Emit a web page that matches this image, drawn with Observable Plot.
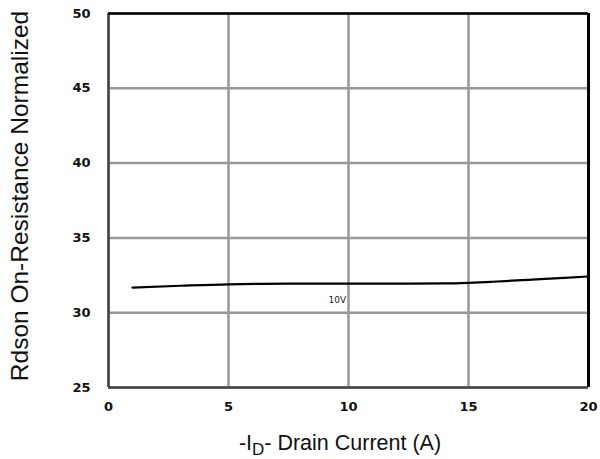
<!DOCTYPE html>
<html><head><meta charset="utf-8">
<script src="https://cdn.jsdelivr.net/npm/d3@7"></script>
<script src="https://cdn.jsdelivr.net/npm/@observablehq/plot@0.6"></script>
<style>body{margin:0;background:#fff}</style>
</head><body><div id="chart"></div>
<script>
const current = [1, 3, 5, 7.5, 10, 12.5, 14, 15, 16, 17.5, 19, 20];
const rdson = [31.68, 31.8, 31.9, 31.94, 31.95, 31.95, 31.96, 32.0, 32.07, 32.2, 32.33, 32.42];
const xTicks = [0, 5, 10, 15, 20];
const yTicks = [25, 30, 35, 40, 45, 50];
const seriesLabel = "10V";
const labelPos = {x: 9.9, y: 30.85};

const data = current.map((x, i) => ({x, y: rdson[i]}));

const chart = Plot.plot({
  width: 600, height: 459,
  marginLeft: 108, marginRight: 12, marginTop: 13, marginBottom: 72,
  x: {domain: [0, 20], ticks: xTicks, label: null},
  y: {domain: [25, 50], ticks: yTicks, label: null},
  style: {fontFamily: "DejaVu Sans", background: "#fff"},
  marks: [
    Plot.gridX(xTicks, {stroke: "#999", strokeOpacity: 1, strokeWidth: 2.5}),
    Plot.gridY(yTicks, {stroke: "#999", strokeOpacity: 1, strokeWidth: 2.5}),
    Plot.ruleX([0], {stroke: "#444", strokeWidth: 2.5}),
    Plot.ruleY([25], {stroke: "#444", strokeWidth: 2.5}),
    Plot.ruleX([20], {stroke: "#000", strokeWidth: 3}),
    Plot.ruleY([50], {stroke: "#000", strokeWidth: 2.5}),
    Plot.axisX({ticks: xTicks, tickSize: 0, tickPadding: 14, fontWeight: "bold", fontSize: 13, fill: "#111", label: null}),
    Plot.axisY({ticks: yTicks, tickSize: 0, tickPadding: 18, fontWeight: "bold", fontSize: 13, fill: "#111", label: null}),
    Plot.line(data, {x: "x", y: "y", stroke: "#000", strokeWidth: 2.2, curve: "monotone-x"}),
    Plot.text([labelPos], {x: "x", y: "y", text: () => seriesLabel, textAnchor: "end", fontSize: 9, fill: "#222", fontFamily: "DejaVu Sans"})
  ]
});
const svg = d3.select(chart);
svg.append("text")
  .attr("transform", "translate(28,196) rotate(-90)")
  .attr("text-anchor", "middle")
  .attr("font-family", "Liberation Sans, Arial")
  .attr("font-size", 24.5).attr("fill", "#111")
  .text("Rdson On-Resistance Normalized");
const xl = svg.append("text")
  .attr("x", 340).attr("y", 450)
  .attr("text-anchor", "middle")
  .attr("font-family", "Liberation Sans, Arial")
  .attr("font-size", 21.5).attr("fill", "#111");
xl.append("tspan").text("-I");
xl.append("tspan").attr("font-size", 17).attr("dy", 5).text("D");
xl.append("tspan").attr("dy", -5).text("- Drain Current (A)");
document.getElementById("chart").appendChild(chart);
</script>
</body></html>
